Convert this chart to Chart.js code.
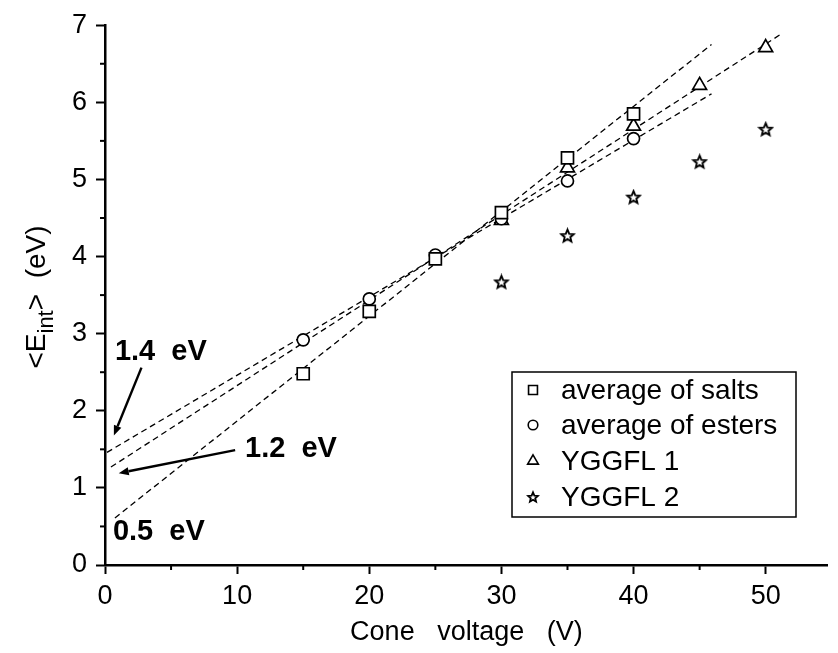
<!DOCTYPE html>
<html>
<head>
<meta charset="utf-8">
<script src="https://cdn.jsdelivr.net/npm/chart.js@4.4.1/dist/chart.umd.min.js"></script>
<style>
  html, body { margin: 0; padding: 0; background: #fff; }
  #wrap { width: 838px; height: 653px; }
</style>
</head>
<body>
<div id="wrap"><canvas id="chart"></canvas></div>
<script>
  // measured points
  const saltsX = [15, 20, 25, 30, 35, 40];
  const saltsY = [2.48, 3.29, 3.97, 4.57, 5.28, 5.85];
  const estersX = [15, 20, 25, 30, 35, 40];
  const estersY = [2.92, 3.45, 4.02, 4.49, 4.98, 5.53];
  const yggfl1X = [30, 35, 40, 45, 50];
  const yggfl1Y = [4.47, 5.15, 5.69, 6.22, 6.71];
  const yggfl2X = [30, 35, 40, 45, 50];
  const yggfl2Y = [3.67, 4.27, 4.77, 5.23, 5.65];

  // dashed fit lines (end points)
  const fitSaltsX = [0.75, 45.9];
  const fitSaltsY = [0.61, 6.75];
  const fitEstersX = [0.15, 45.9];
  const fitEstersY = [1.46, 6.11];
  const fitYggfl1X = [0.45, 51.3];
  const fitYggfl1Y = [1.27, 6.90];

  const seriesNames = ['average of salts', 'average of esters', 'YGGFL 1', 'YGGFL 2'];
  const xTicks = [0, 10, 20, 30, 40, 50];
  const yTicks = [0, 1, 2, 3, 4, 5, 6, 7];

  // intercept labels and arrows, in data units
  const labelText = ['1.4  eV', '1.2  eV', '0.5  eV'];
  const labelX = [0.75, 10.6, 0.6];
  const labelY = [2.76, 1.51, 0.43];
  const arrowFromX = [2.76, 9.85];
  const arrowFromY = [2.56, 1.49];
  const arrowToX = [0.67, 1.04];
  const arrowToY = [1.68, 1.19];

  const FONT = '"Liberation Sans", Arial, sans-serif';

  const toXY = (xs, ys) => xs.map((x, i) => ({ x: x, y: ys[i] }));

  // five point outline star used as point image
  function makeStar(size, lw) {
    const c = document.createElement('canvas');
    c.width = size; c.height = size;
    const g = c.getContext('2d');
    const cx = size / 2, cy = size / 2 + 0.5;
    const ro = size / 2 - lw, ri = ro * 0.45;
    g.beginPath();
    for (let i = 0; i < 10; i++) {
      const r = i % 2 ? ri : ro;
      const a = -Math.PI / 2 + i * Math.PI / 5;
      const px = cx + r * Math.cos(a), py = cy + r * Math.sin(a);
      if (i === 0) g.moveTo(px, py); else g.lineTo(px, py);
    }
    g.closePath();
    g.fillStyle = '#fff';
    g.fill();
    g.lineWidth = lw;
    g.strokeStyle = '#000';
    g.stroke();
    return c;
  }
  const starBig = makeStar(17, 1.9);
  const starSmall = makeStar(14, 1.8);

  const pointStyles = ['rect', 'circle', 'triangle', starBig];
  const pointRadii = [8.5, 6, 8, 8];
  const legendStyles = ['rect', 'circle', 'triangle', starSmall];
  const legendRadii = [6.3, 4.8, 6.2, 6];

  function pointSet(i, xs, ys) {
    return {
      label: seriesNames[i],
      data: toXY(xs, ys),
      showLine: false,
      pointStyle: pointStyles[i],
      pointRadius: pointRadii[i],
      pointHoverRadius: pointRadii[i],
      pointBorderWidth: 1.7,
      pointBorderColor: '#000',
      pointBackgroundColor: '#fff',
      order: 1
    };
  }

  function fitSet(xs, ys) {
    return {
      label: 'fit',
      data: toXY(xs, ys),
      showLine: true,
      borderColor: '#000',
      borderWidth: 1.3,
      borderDash: [6, 4],
      pointRadius: 0,
      fill: false,
      order: 2
    };
  }

  // minor ticks, intercept labels, arrows, y title, legend
  const extras = {
    id: 'extras',
    afterDraw(chart) {
      const ctx = chart.ctx;
      const xs = chart.scales.x, ys = chart.scales.y;
      const area = chart.chartArea;
      ctx.save();
      ctx.strokeStyle = '#000';
      ctx.lineWidth = 2;
      for (let v = 5; v < 55; v += 10) {
        const px = xs.getPixelForValue(v);
        ctx.beginPath();
        ctx.moveTo(px, area.bottom);
        ctx.lineTo(px, area.bottom + 5);
        ctx.stroke();
      }
      for (let v = 0.5; v < 7; v += 1) {
        const py = ys.getPixelForValue(v);
        ctx.beginPath();
        ctx.moveTo(area.left - 5, py);
        ctx.lineTo(area.left, py);
        ctx.stroke();
      }

      ctx.fillStyle = '#000';
      ctx.font = 'bold 29px ' + FONT;
      ctx.textBaseline = 'middle';
      ctx.textAlign = 'left';
      labelText.forEach((t, i) => {
        ctx.fillText(t, xs.getPixelForValue(labelX[i]), ys.getPixelForValue(labelY[i]));
      });

      ctx.lineWidth = 2.4;
      arrowFromX.forEach((fx, i) => {
        const x0 = xs.getPixelForValue(fx), y0 = ys.getPixelForValue(arrowFromY[i]);
        const x1 = xs.getPixelForValue(arrowToX[i]), y1 = ys.getPixelForValue(arrowToY[i]);
        const ang = Math.atan2(y1 - y0, x1 - x0);
        const hl = 10, hw = 4;
        const bx = x1 - hl * Math.cos(ang), by = y1 - hl * Math.sin(ang);
        ctx.beginPath();
        ctx.moveTo(x0, y0);
        ctx.lineTo(bx, by);
        ctx.stroke();
        ctx.beginPath();
        ctx.moveTo(x1, y1);
        ctx.lineTo(bx + hw * Math.sin(ang), by - hw * Math.cos(ang));
        ctx.lineTo(bx - hw * Math.sin(ang), by + hw * Math.cos(ang));
        ctx.closePath();
        ctx.fill();
      });

      // y title with subscript
      ctx.translate(36, 297);
      ctx.rotate(-Math.PI / 2);
      ctx.textBaseline = 'alphabetic';
      ctx.textAlign = 'left';
      const big = '28px ' + FONT, small = '22px ' + FONT;
      ctx.font = big;
      const w1 = ctx.measureText('<E').width;
      const w3 = ctx.measureText('>  (eV)').width;
      ctx.font = small;
      const w2 = ctx.measureText('int').width;
      let x = -(w1 + w2 + w3) / 2;
      ctx.font = big;
      ctx.fillText('<E', x, 9);
      x += w1;
      ctx.font = small;
      ctx.fillText('int', x, 17);
      x += w2;
      ctx.font = big;
      ctx.fillText('>  (eV)', x, 9);
      ctx.restore();

      // legend box
      ctx.save();
      ctx.lineWidth = 1.5;
      ctx.strokeStyle = '#000';
      ctx.strokeRect(512, 372, 284, 145);
      const rows = [390, 425, 461, 497];
      ctx.textBaseline = 'middle';
      seriesNames.forEach((name, i) => {
        ctx.fillStyle = '#fff';
        ctx.strokeStyle = '#000';
        ctx.lineWidth = 1.6;
        Chart.helpers.drawPoint(ctx, {
          pointStyle: legendStyles[i],
          radius: legendRadii[i],
          rotation: 0,
          borderWidth: 1.6
        }, 533, rows[i]);
        ctx.fillStyle = '#000';
        ctx.font = '28px ' + FONT;
        ctx.fillText(name, 561, rows[i] + 1);
      });
      ctx.restore();
    }
  };

  new Chart(document.getElementById('chart'), {
    type: 'scatter',
    data: {
      datasets: [
        pointSet(0, saltsX, saltsY),
        pointSet(1, estersX, estersY),
        pointSet(2, yggfl1X, yggfl1Y),
        pointSet(3, yggfl2X, yggfl2Y),
        fitSet(fitSaltsX, fitSaltsY),
        fitSet(fitEstersX, fitEstersY),
        fitSet(fitYggfl1X, fitYggfl1Y)
      ]
    },
    options: {
      responsive: true,
      maintainAspectRatio: false,
      animation: false,
      layout: { padding: { top: 24, right: 0, left: 0, bottom: 0 } },
      plugins: {
        legend: { display: false },
        tooltip: { enabled: false }
      },
      scales: {
        x: {
          type: 'linear',
          min: 0,
          max: 54.7,
          afterFit: (s) => { s.height = 88; },
          afterBuildTicks: (s) => { s.ticks = xTicks.map(v => ({ value: v })); },
          border: { display: true, color: '#000', width: 2.5 },
          grid: { drawOnChartArea: false, color: '#000', tickLength: 9, tickWidth: 2 },
          ticks: {
            color: '#000',
            padding: 6,
            maxRotation: 0,
            font: { family: FONT, size: 27 }
          },
          title: {
            display: true,
            text: 'Cone   voltage   (V)',
            color: '#000',
            font: { family: FONT, size: 27 },
            padding: { top: 0, bottom: 4 }
          }
        },
        y: {
          type: 'linear',
          min: 0,
          max: 7,
          afterFit: (s) => { s.width = 105; },
          afterBuildTicks: (s) => { s.ticks = yTicks.map(v => ({ value: v })); },
          border: { display: true, color: '#000', width: 2.5 },
          grid: { drawOnChartArea: false, color: '#000', tickLength: 9, tickWidth: 2 },
          ticks: {
            color: '#000',
            padding: 9,
            font: { family: FONT, size: 27 }
          }
        }
      }
    },
    plugins: [extras]
  });
</script>
</body>
</html>
